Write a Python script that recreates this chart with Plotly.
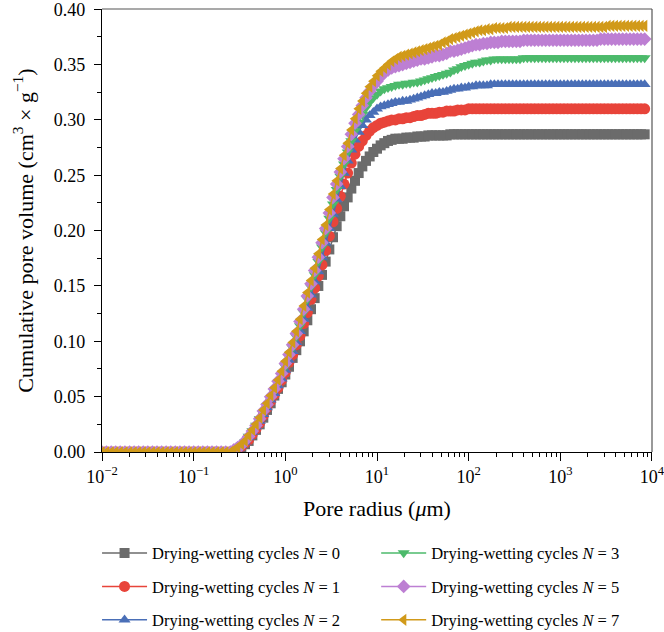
import plotly.graph_objects as go

# Pore radius (um), shared by all series
pore_radius_um = [
    0.01, 0.0112, 0.0126, 0.0141, 0.0158, 0.0178, 0.02, 0.0224, 0.0251, 0.0282,
    0.0316, 0.0355, 0.0398, 0.0447, 0.0501, 0.0562, 0.0631, 0.0708, 0.0794, 0.0891,
    0.1, 0.1122, 0.1259, 0.1413, 0.1585, 0.1778, 0.1995, 0.2239, 0.2512,
    0.275, 0.302, 0.331, 0.363, 0.398, 0.437, 0.479, 0.525, 0.575, 0.631,
    0.692, 0.759, 0.832, 0.912, 1.0, 1.096, 1.202, 1.318, 1.445, 1.585,
    1.738, 1.905, 2.089, 2.291, 2.512, 2.754, 3.02, 3.311, 3.631, 3.981,
    4.365, 4.786, 5.248, 5.754, 6.31, 6.918, 7.586, 8.318, 9.12, 10.0,
    10.96, 12.02, 13.18, 14.45, 15.85, 17.38, 19.05, 20.89, 22.91, 25.12,
    27.54, 30.2, 33.11, 36.31, 39.81,
    43.65, 47.86, 52.48, 57.54, 63.1, 69.18, 75.86, 83.18, 91.2, 100,
    109.6, 120.2, 131.8, 144.5, 158.5, 173.8, 190.5, 208.9, 229.1, 251.2,
    275.4, 302.0, 331.1, 363.1, 398.1, 436.5, 478.6, 524.8, 575.4, 631.0,
    691.8, 758.6, 831.8, 912.0, 1000, 1096, 1202, 1318, 1445, 1585,
    1738, 1905, 2089, 2291, 2512, 2754, 3020, 3311, 3631, 3981,
    4365, 4786, 5248, 5754, 6310, 6918, 7586, 8318,
]

vol_N0 = [
    0, 0, 0, 0, 0, 0, 0, 0, 0, 0, 0, 0, 0, 0, 0, 0, 0, 0, 0, 0,
    0, 0, 0, 0, 0, 0, 0, 0, 0,
    0.000, 0.002, 0.004, 0.007, 0.010, 0.015, 0.020, 0.025, 0.031, 0.038,
    0.044, 0.051, 0.057, 0.063, 0.070, 0.077, 0.085, 0.092, 0.100, 0.109,
    0.119, 0.129, 0.139, 0.150, 0.160, 0.172, 0.183, 0.194, 0.204, 0.213,
    0.222, 0.230, 0.238, 0.245, 0.252, 0.258, 0.263, 0.267, 0.271, 0.274,
    0.277, 0.279, 0.281, 0.282, 0.283, 0.283, 0.283, 0.284, 0.284, 0.284,
    0.285, 0.285, 0.285, 0.286, 0.286,
    0.286, 0.286, 0.286, 0.286, 0.287, 0.287, 0.287, 0.287, 0.287, 0.287,
    0.287, 0.287, 0.287, 0.287, 0.287, 0.287, 0.287, 0.287, 0.287, 0.287,
    0.287, 0.287, 0.287, 0.287, 0.287, 0.287, 0.287, 0.287, 0.287, 0.287,
    0.287, 0.287, 0.287, 0.287, 0.287, 0.287, 0.287, 0.287, 0.287, 0.287,
    0.287, 0.287, 0.287, 0.287, 0.287, 0.287, 0.287, 0.287, 0.287, 0.287,
    0.287, 0.287, 0.287, 0.287, 0.287, 0.287, 0.287, 0.287,
]

vol_N1 = [
    0, 0, 0, 0, 0, 0, 0, 0, 0, 0, 0, 0, 0, 0, 0, 0, 0, 0, 0, 0,
    0, 0, 0, 0, 0, 0, 0, 0, 0,
    0.000, 0.002, 0.005, 0.008, 0.011, 0.016, 0.021, 0.026, 0.033, 0.040,
    0.046, 0.052, 0.058, 0.065, 0.072, 0.081, 0.088, 0.097, 0.105, 0.116,
    0.126, 0.138, 0.148, 0.159, 0.169, 0.182, 0.195, 0.208, 0.220, 0.231,
    0.242, 0.252, 0.261, 0.269, 0.276, 0.281, 0.286, 0.290, 0.293, 0.295,
    0.297, 0.298, 0.299, 0.300, 0.300, 0.301, 0.301, 0.302, 0.302, 0.303,
    0.304, 0.304, 0.305, 0.306, 0.306,
    0.306, 0.307, 0.307, 0.308, 0.308, 0.308, 0.309, 0.309, 0.309, 0.310,
    0.310, 0.310, 0.310, 0.310, 0.310, 0.310, 0.310, 0.310, 0.310, 0.310,
    0.310, 0.310, 0.310, 0.310, 0.310, 0.310, 0.310, 0.310, 0.310, 0.310,
    0.310, 0.310, 0.310, 0.310, 0.310, 0.310, 0.310, 0.310, 0.310, 0.310,
    0.310, 0.310, 0.310, 0.310, 0.310, 0.310, 0.310, 0.310, 0.310, 0.310,
    0.310, 0.310, 0.310, 0.310, 0.310, 0.310, 0.310, 0.310,
]

vol_N2 = [
    0, 0, 0, 0, 0, 0, 0, 0, 0, 0, 0, 0, 0, 0, 0, 0, 0, 0, 0, 0,
    0, 0, 0, 0, 0, 0, 0, 0, 0,
    0.001, 0.003, 0.006, 0.009, 0.013, 0.018, 0.023, 0.028, 0.034, 0.040,
    0.047, 0.053, 0.060, 0.066, 0.074, 0.083, 0.091, 0.099, 0.109, 0.120,
    0.130, 0.142, 0.154, 0.163, 0.176, 0.189, 0.202, 0.215, 0.228, 0.240,
    0.252, 0.263, 0.273, 0.282, 0.289, 0.295, 0.300, 0.304, 0.307, 0.310,
    0.312, 0.313, 0.314, 0.315, 0.316, 0.316, 0.317, 0.317, 0.318, 0.319,
    0.320, 0.321, 0.322, 0.323, 0.324,
    0.324, 0.325, 0.325, 0.326, 0.327, 0.328, 0.328, 0.329, 0.329, 0.330,
    0.330, 0.331, 0.331, 0.331, 0.331, 0.332, 0.332, 0.332, 0.332, 0.332,
    0.332, 0.332, 0.332, 0.332, 0.332, 0.332, 0.332, 0.332, 0.332, 0.332,
    0.332, 0.332, 0.332, 0.332, 0.332, 0.332, 0.332, 0.332, 0.332, 0.332,
    0.332, 0.332, 0.332, 0.332, 0.332, 0.332, 0.332, 0.332, 0.332, 0.332,
    0.332, 0.332, 0.332, 0.332, 0.332, 0.332, 0.332, 0.332,
]

vol_N3 = [
    0, 0, 0, 0, 0, 0, 0, 0, 0, 0, 0, 0, 0, 0, 0, 0, 0, 0, 0, 0,
    0, 0, 0, 0, 0, 0, 0, 0, 0,
    0.001, 0.003, 0.006, 0.009, 0.014, 0.019, 0.024, 0.030, 0.035, 0.042,
    0.048, 0.055, 0.062, 0.069, 0.077, 0.086, 0.094, 0.104, 0.114, 0.126,
    0.138, 0.149, 0.160, 0.172, 0.185, 0.198, 0.211, 0.224, 0.237, 0.249,
    0.260, 0.271, 0.281, 0.290, 0.298, 0.305, 0.311, 0.316, 0.320, 0.323,
    0.326, 0.328, 0.329, 0.330, 0.331, 0.332, 0.332, 0.333, 0.333, 0.334,
    0.334, 0.335, 0.336, 0.337, 0.338,
    0.339, 0.340, 0.341, 0.342, 0.343, 0.345, 0.346, 0.348, 0.349, 0.350,
    0.351, 0.352, 0.352, 0.353, 0.354, 0.354, 0.355, 0.355, 0.355, 0.355,
    0.355, 0.355, 0.355, 0.355, 0.356, 0.356, 0.356, 0.356, 0.356, 0.356,
    0.356, 0.356, 0.356, 0.356, 0.356, 0.356, 0.356, 0.356, 0.356, 0.356,
    0.356, 0.356, 0.356, 0.356, 0.356, 0.356, 0.356, 0.356, 0.356, 0.356,
    0.356, 0.356, 0.356, 0.356, 0.356, 0.356, 0.356, 0.356,
]

vol_N5 = [
    0, 0, 0, 0, 0, 0, 0, 0, 0, 0, 0, 0, 0, 0, 0, 0, 0, 0, 0, 0,
    0, 0, 0, 0, 0, 0, 0, 0, 0,
    0.002, 0.004, 0.006, 0.010, 0.014, 0.019, 0.024, 0.030, 0.037, 0.043,
    0.050, 0.057, 0.064, 0.071, 0.080, 0.088, 0.097, 0.107, 0.118, 0.129,
    0.141, 0.152, 0.164, 0.176, 0.189, 0.202, 0.216, 0.230, 0.242, 0.253,
    0.265, 0.276, 0.287, 0.297, 0.305, 0.313, 0.320, 0.326, 0.331, 0.335,
    0.339, 0.343, 0.345, 0.347, 0.348, 0.349, 0.350, 0.351, 0.352, 0.353,
    0.354, 0.355, 0.355, 0.356, 0.357,
    0.358, 0.358, 0.359, 0.360, 0.362, 0.362, 0.363, 0.364, 0.365, 0.366,
    0.367, 0.368, 0.368, 0.369, 0.369, 0.370, 0.370, 0.370, 0.371, 0.371,
    0.371, 0.371, 0.371, 0.371, 0.372, 0.372, 0.372, 0.372, 0.372, 0.372,
    0.372, 0.372, 0.372, 0.372, 0.372, 0.372, 0.372, 0.372, 0.372, 0.372,
    0.372, 0.372, 0.372, 0.372, 0.372, 0.373, 0.373, 0.373, 0.373, 0.373,
    0.373, 0.373, 0.373, 0.373, 0.373, 0.373, 0.373, 0.373,
]

vol_N7 = [
    0, 0, 0, 0, 0, 0, 0, 0, 0, 0, 0, 0, 0, 0, 0, 0, 0, 0, 0, 0,
    0, 0, 0, 0, 0, 0, 0, 0, 0,
    0.002, 0.004, 0.007, 0.010, 0.015, 0.020, 0.025, 0.031, 0.038, 0.044,
    0.051, 0.058, 0.065, 0.073, 0.082, 0.090, 0.099, 0.109, 0.120, 0.132,
    0.144, 0.155, 0.166, 0.179, 0.192, 0.205, 0.219, 0.233, 0.245, 0.256,
    0.268, 0.279, 0.291, 0.301, 0.310, 0.317, 0.324, 0.330, 0.335, 0.340,
    0.344, 0.347, 0.350, 0.353, 0.355, 0.357, 0.358, 0.359, 0.360, 0.361,
    0.362, 0.363, 0.364, 0.365, 0.366,
    0.367, 0.368, 0.370, 0.371, 0.373, 0.374, 0.375, 0.376, 0.377, 0.378,
    0.379, 0.380, 0.381, 0.381, 0.382, 0.382, 0.383, 0.383, 0.383, 0.383,
    0.384, 0.384, 0.384, 0.384, 0.384, 0.384, 0.384, 0.384, 0.384, 0.384,
    0.384, 0.384, 0.384, 0.384, 0.384, 0.384, 0.384, 0.384, 0.384, 0.384,
    0.384, 0.384, 0.384, 0.384, 0.384, 0.384, 0.384, 0.385, 0.385, 0.385,
    0.385, 0.385, 0.385, 0.385, 0.385, 0.385, 0.385, 0.385,
]

series_names = [
    "Drying-wetting cycles <i>N</i> = 0",
    "Drying-wetting cycles <i>N</i> = 1",
    "Drying-wetting cycles <i>N</i> = 2",
    "Drying-wetting cycles <i>N</i> = 3",
    "Drying-wetting cycles <i>N</i> = 5",
    "Drying-wetting cycles <i>N</i> = 7",
]
series_values = [vol_N0, vol_N1, vol_N2, vol_N3, vol_N5, vol_N7]

x_tick_vals = [0.01, 0.1, 1, 10, 100, 1000, 10000]
x_tick_text = ["10<sup>−2</sup>", "10<sup>−1</sup>", "10<sup>0</sup>", "10<sup>1</sup>",
               "10<sup>2</sup>", "10<sup>3</sup>", "10<sup>4</sup>"]

for v in series_values:
    assert len(v) == len(pore_radius_um), (len(v), len(pore_radius_um))

colors = ["#6b6b6b", "#e8443a", "#4a6fb7", "#4cba6b", "#bd7fd3", "#d19a1a"]
symbols = ["square", "circle", "triangle-up", "triangle-down", "diamond", "triangle-left"]
sizes = [10, 11, 10.5, 10.5, 10.5, 10.5]
legend_ids = ["legend", "legend", "legend", "legend2", "legend2", "legend2"]

fig = go.Figure()
for i in range(6):
    fig.add_trace(go.Scatter(
        x=pore_radius_um, y=series_values[i], name=series_names[i],
        mode="lines+markers",
        line=dict(color=colors[i], width=1.5),
        marker=dict(symbol=symbols[i], size=sizes[i], color=colors[i], line=dict(width=0)),
        legend=legend_ids[i], legendgroup=str(i),
    ))

legend_common = dict(
    yanchor="top", xanchor="left",
    orientation="v", tracegroupgap=9, itemwidth=45, bgcolor="rgba(0,0,0,0)",
    font=dict(family="Liberation Serif", size=16.5, color="black"),
)

fig.update_layout(
    width=664, height=632,
    margin=dict(l=102, r=12, t=9, b=180, autoexpand=False),
    paper_bgcolor="white", plot_bgcolor="white",
    font=dict(family="Liberation Serif", size=17, color="black"),
    showlegend=True,
    legend=dict(legend_common, x=-0.009, y=-0.189),
    legend2=dict(legend_common, x=0.4985, y=-0.189),
    xaxis=dict(
        type="log", range=[-2, 4.0001],
        tickmode="array", tickvals=x_tick_vals, ticktext=x_tick_text,
        ticklabeloverflow="allow",
        showline=True, linecolor="black", linewidth=1.2,
        ticks="outside", ticklen=8, tickwidth=1, tickcolor="black",
        showgrid=False, zeroline=False,
        minor=dict(dtick="D1", ticks="outside", ticklen=4, tickwidth=1, tickcolor="black", showgrid=False),
        tickfont=dict(family="Liberation Serif", size=18),
        title=dict(text="Pore radius (<i>μ</i>m)", font=dict(family="Liberation Serif", size=22), standoff=14),
    ),
    yaxis=dict(
        range=[0, 0.4002], dtick=0.05, tick0=0, tickformat=".2f",
        ticklabeloverflow="allow",
        showline=True, linecolor="black", linewidth=1.2,
        ticks="outside", ticklen=7, tickwidth=1, tickcolor="black", ticklabelstandoff=5,
        showgrid=False, zeroline=False,
        minor=dict(dtick=0.025, ticks="outside", ticklen=4, tickwidth=1, tickcolor="black", showgrid=False),
        tickfont=dict(family="Liberation Serif", size=18),
        title=dict(text="Cumulative pore volume (cm<sup>3</sup> × g<sup>−1</sup>)",
                   font=dict(family="Liberation Serif", size=22), standoff=14),
    ),
    shapes=[
        dict(type="line", xref="x domain", yref="y domain", x0=0, x1=1, y0=1, y1=1,
             line=dict(color="#555555", width=1.2)),
        dict(type="line", xref="x domain", yref="y domain", x0=1, x1=1, y0=0, y1=1,
             line=dict(color="#555555", width=1.2)),
    ],
)

fig.write_html("out.html", config={"displayModeBar": False},
               post_script="document.body.style.margin='0';")
